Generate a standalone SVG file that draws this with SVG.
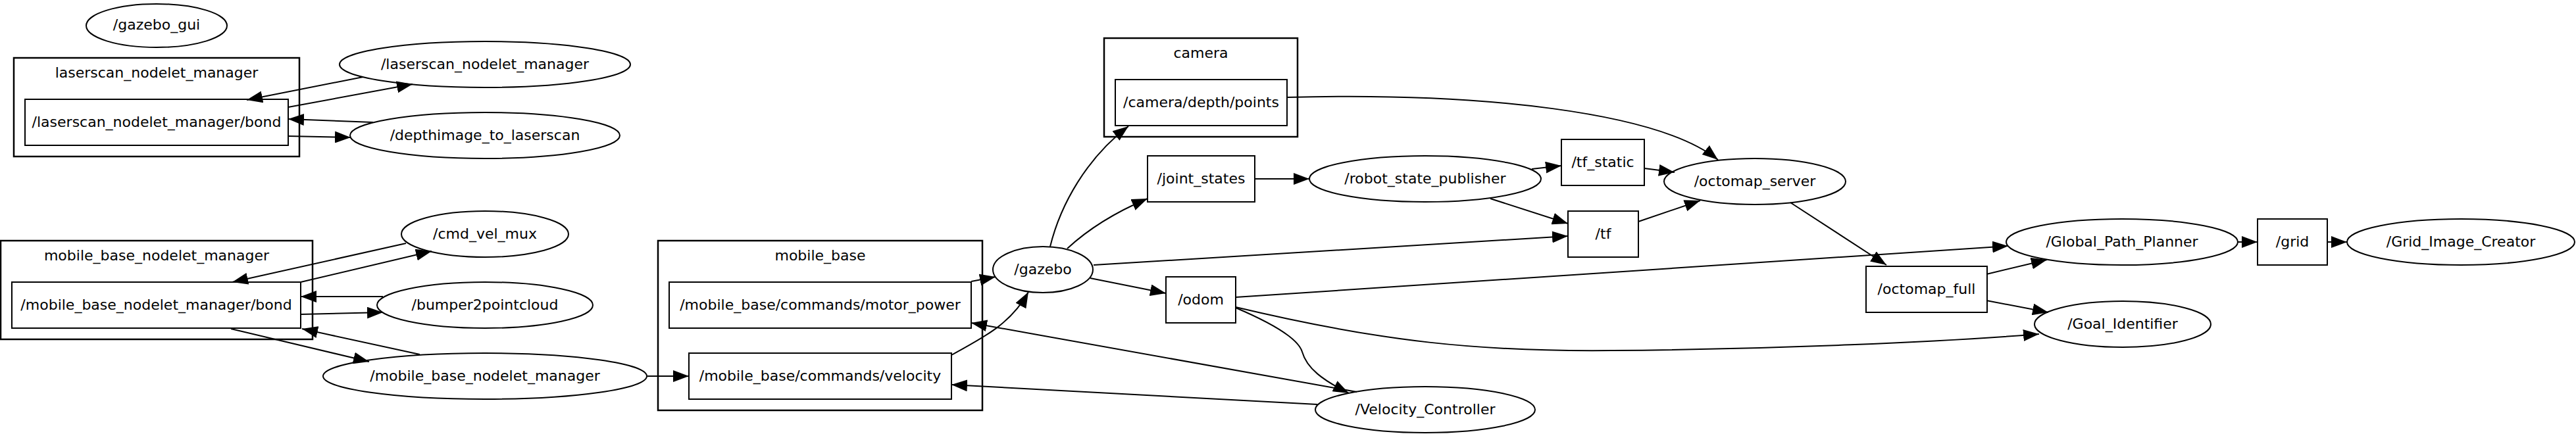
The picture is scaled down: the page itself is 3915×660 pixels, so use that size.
<svg xmlns="http://www.w3.org/2000/svg" width="3915" height="660" viewBox="0 0 3915 660">
<style>
.n ellipse, .n rect {fill:none; stroke:#000; stroke-width:2}
.c > rect {fill:none; stroke:#000; stroke-width:2.5}
text {font-family:"DejaVu Sans","Liberation Sans",sans-serif; font-size:22px; text-anchor:middle; fill:#000}
#edges path {fill:none; stroke:#000; stroke-width:2; marker-end:url(#arr)}
</style>
<defs>
<marker id="arr" markerUnits="userSpaceOnUse" markerWidth="24" markerHeight="18" refX="24" refY="9" orient="auto" viewBox="0 0 24 18"><path d="M0,0 L24,9 L0,18 z" fill="#000"/></marker>
</defs>
<rect width="3915" height="660" fill="#fff"/>

<g id="cluster_laserscan" class="c"><rect x="21" y="88" width="434" height="150"/><text x="238" y="118">laserscan_nodelet_manager</text></g>
<g id="cluster_mobile_base_nodelet_manager" class="c"><rect x="1" y="366" width="474" height="150"/><text x="238" y="396">mobile_base_nodelet_manager</text></g>
<g id="cluster_mobile_base" class="c"><rect x="1000" y="366" width="493" height="258"/><text x="1246.5" y="396">mobile_base</text></g>
<g id="cluster_camera" class="c"><rect x="1678" y="58" width="294" height="150"/><text x="1825" y="88">camera</text></g>

<g id="n_gazebo_gui" class="n"><ellipse cx="238" cy="39" rx="107" ry="33"/><text x="238" y="45">/gazebo_gui</text></g>
<g id="n_laserscan_nodelet_manager" class="n"><ellipse cx="737" cy="98" rx="221" ry="35"/><text x="737" y="105">/laserscan_nodelet_manager</text></g>
<g id="n_depthimage_to_laserscan" class="n"><ellipse cx="737" cy="206" rx="205" ry="35"/><text x="737" y="213">/depthimage_to_laserscan</text></g>
<g id="n_cmd_vel_mux" class="n"><ellipse cx="737" cy="356" rx="127" ry="35"/><text x="737" y="363">/cmd_vel_mux</text></g>
<g id="n_bumper2pointcloud" class="n"><ellipse cx="737" cy="464" rx="164" ry="35"/><text x="737" y="471">/bumper2pointcloud</text></g>
<g id="n_mobile_base_nodelet_manager" class="n"><ellipse cx="737" cy="572" rx="246" ry="35"/><text x="737" y="579">/mobile_base_nodelet_manager</text></g>
<g id="n_gazebo" class="n"><ellipse cx="1585" cy="410" rx="76" ry="35"/><text x="1585" y="417">/gazebo</text></g>
<g id="n_robot_state_publisher" class="n"><ellipse cx="2166" cy="272" rx="176" ry="35"/><text x="2166" y="279">/robot_state_publisher</text></g>
<g id="n_octomap_server" class="n"><ellipse cx="2667" cy="276" rx="138" ry="35"/><text x="2667" y="283">/octomap_server</text></g>
<g id="n_Velocity_Controller" class="n"><ellipse cx="2166" cy="623" rx="167" ry="35"/><text x="2166" y="630">/Velocity_Controller</text></g>
<g id="n_Global_Path_Planner" class="n"><ellipse cx="3225" cy="368" rx="176" ry="35"/><text x="3225" y="375">/Global_Path_Planner</text></g>
<g id="n_Grid_Image_Creator" class="n"><ellipse cx="3740" cy="368" rx="173" ry="35"/><text x="3740" y="375">/Grid_Image_Creator</text></g>
<g id="n_Goal_Identifier" class="n"><ellipse cx="3226" cy="493" rx="134" ry="35"/><text x="3226" y="500">/Goal_Identifier</text></g>

<g id="t_laserscan_bond" class="n"><rect x="38" y="151" width="400" height="70"/><text x="238" y="193">/laserscan_nodelet_manager/bond</text></g>
<g id="t_mobile_base_bond" class="n"><rect x="18" y="429" width="439" height="70"/><text x="237.5" y="471">/mobile_base_nodelet_manager/bond</text></g>
<g id="t_motor_power" class="n"><rect x="1017" y="429" width="459" height="70"/><text x="1246.5" y="471">/mobile_base/commands/motor_power</text></g>
<g id="t_velocity" class="n"><rect x="1047" y="537" width="399" height="70"/><text x="1246.5" y="579">/mobile_base/commands/velocity</text></g>
<g id="t_camera_depth_points" class="n"><rect x="1695" y="121" width="261" height="70"/><text x="1825.5" y="163">/camera/depth/points</text></g>
<g id="t_joint_states" class="n"><rect x="1744" y="237" width="163" height="70"/><text x="1825.5" y="279">/joint_states</text></g>
<g id="t_odom" class="n"><rect x="1772" y="421" width="106" height="70"/><text x="1825" y="463">/odom</text></g>
<g id="t_tf_static" class="n"><rect x="2373" y="212" width="126" height="70"/><text x="2436" y="254">/tf_static</text></g>
<g id="t_tf" class="n"><rect x="2383" y="321" width="107" height="70"/><text x="2436.5" y="363">/tf</text></g>
<g id="t_octomap_full" class="n"><rect x="2836" y="405" width="184" height="70"/><text x="2928" y="447">/octomap_full</text></g>
<g id="t_grid" class="n"><rect x="3431" y="333" width="106" height="70"/><text x="3484" y="375">/grid</text></g>

<g id="edges">
<path d="M552,117 L375,152"/>
<path d="M438,163 L627,128"/>
<path d="M567,186 L438,181"/>
<path d="M438,207 L533,209"/>
<path d="M617,370 L353,429"/>
<path d="M457,429 L656,382"/>
<path d="M582,451 L457,451"/>
<path d="M457,478 L582,475"/>
<path d="M638,539 L459,500"/>
<path d="M351,500 L561,550"/>
<path d="M984,572 L1047,572"/>
<path d="M1476,428 L1513,421"/>
<path d="M1446,540 C1490,515 1535,495 1563,444"/>
<path d="M1596,375 C1612,310 1652,240 1715,192"/>
<path d="M1622,378 C1650,352 1690,325 1744,302"/>
<path d="M1662,403 L2383,359"/>
<path d="M1657,423 L1772,446"/>
<path d="M1956,148 C2250,140 2520,170 2611,243"/>
<path d="M1907,272 L1990,272"/>
<path d="M2328,257 L2373,252"/>
<path d="M2265,302 L2383,340"/>
<path d="M2499,256 L2545,262"/>
<path d="M2490,337 L2584,305"/>
<path d="M2721,308 L2867,403"/>
<path d="M1878,452 L3052,374"/>
<path d="M1878,467 C2100,520 2250,535 2450,533 C2700,531 2950,520 3099,508"/>
<path d="M1878,468 C1925,488 1972,512 1979,535 C1986,560 2010,578 2050,598"/>
<path d="M2062,596 L1476,491"/>
<path d="M2002,615 L1446,585"/>
<path d="M3019,417 L3111,395"/>
<path d="M3019,457 L3113,475"/>
<path d="M3401,368 L3431,368"/>
<path d="M3537,368 L3567,368"/>
</g>
</svg>
